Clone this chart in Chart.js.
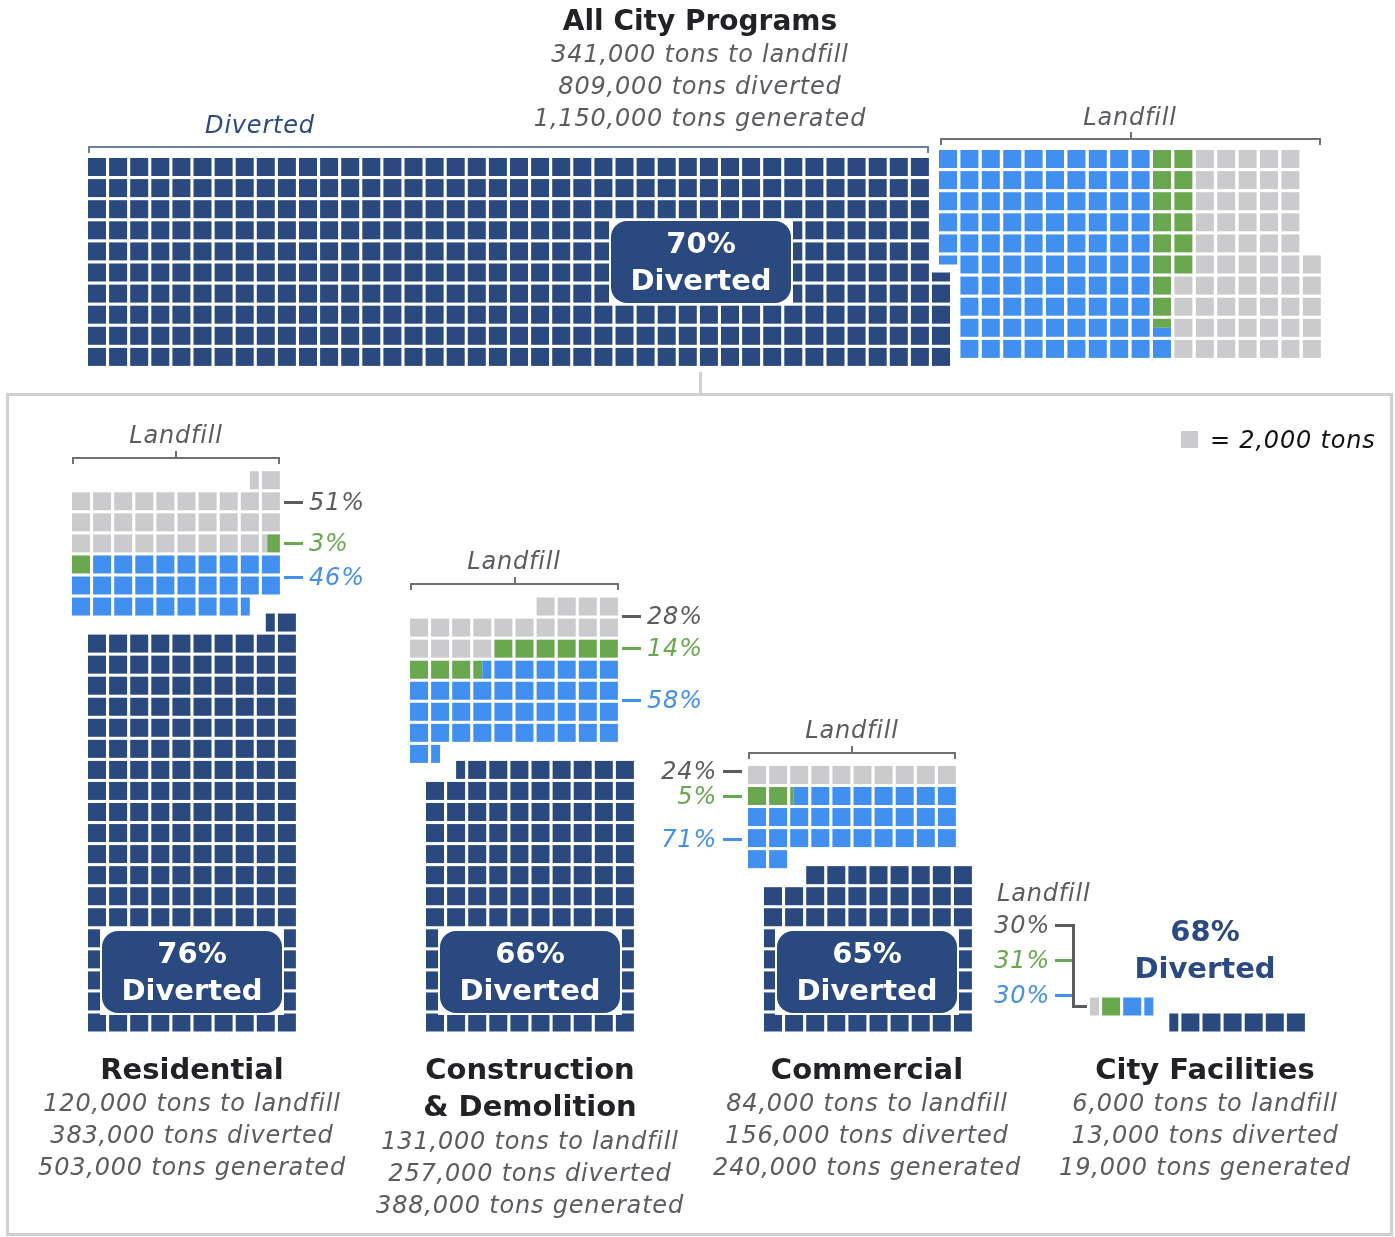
<!DOCTYPE html>
<html lang="en">
<head>
<meta charset="UTF-8">
<title>Landfill and Diversion by Program</title>
<script src="https://cdn.jsdelivr.net/npm/chart.js"></script>
<style>
  body { margin: 0; background: #fff; }
  #page { position: relative; width: 1395px; height: 1237px; overflow: hidden; font-family: "DejaVu Sans", sans-serif; }
  canvas { position: absolute; left: 0; top: 0; }
  .t { position: absolute; white-space: nowrap; transform: translate(-50%, -50%); line-height: 1; z-index: 3; }
  .it { font-style: italic; font-size: 24px; letter-spacing: 0.8px; color: #5b5b60; }
  .name { font-weight: bold; font-size: 29px; color: #222226; }
  .head { font-weight: bold; font-size: 28px; color: #222226; }
  .big { font-weight: bold; font-size: 29px; color: #fff; }
  .navy { color: #2b4a82; }
  .green { color: #6aa84f; }
  .blue { color: #4390ef; }
  .ink { color: #111; }
  .ln { position: absolute; z-index: 2; }
  .badge { position: absolute; background: #fff; padding: 2px; z-index: 2; }
  .badge div { width: 100%; height: 100%; background: #29497f; border-radius: 16px; }
  #panel { position: absolute; left: 6px; top: 393px; width: 1387px; height: 843px; border: 3px solid #d0d0d0; box-sizing: border-box; }
</style>
</head>
<body>
<div id="page">
  <div id="panel"></div>
  <canvas id="topChart" width="1395" height="1237"></canvas>
  <canvas id="lowerChart" width="1395" height="1237"></canvas>
</div>

<script>
  // ---- data (tons) ----
  const SQUARE_TONS = 2000;
  const groups = ['All City Programs', 'Residential', 'Construction & Demolition', 'Commercial', 'City Facilities'];
  const landfillTons = [341000, 120000, 131000, 84000, 6000];
  const divertedTons = [809000, 383000, 257000, 156000, 13000];
  const generatedTons = [1150000, 503000, 388000, 240000, 19000];
  const divertedPct = [70, 76, 66, 65, 68];
  const recyclableTons = [194000, 55000, 76000, 59600, 3000];
  const compostableTons = [29000, 3400, 19000, 4400, 2000];
  const trashTons = [118000, 61600, 36000, 20000, 1000];
  // percent labels printed beside the landfill blocks
  const trashPct = [null, 51, 28, 24, 30];
  const compostPct = [null, 3, 14, 5, 31];
  const recyclePct = [null, 46, 58, 71, 30];

  const W = 1395, H = 1237, CELL = 18;
  const NAVY = '#29497f', BLUE = '#4190f0', GREEN = '#6aa84f', GRAY = '#cbcbcd';
  const sq = v => v / SQUARE_TONS;
  const fmt = v => v.toLocaleString('en-US');

  // split a run [a,b) of squares into per-square pieces
  function pieces(a, b) {
    const out = [];
    for (let q = Math.floor(a + 1e-9); q < b - 1e-6; q++) {
      const s = Math.max(a, q) - q, e = Math.min(b, q + 1) - q;
      if (e - s > 1e-6) out.push({ q, s, e });
    }
    return out;
  }

  // top waffle: columns of 10, filled bottom to top
  function colBar(p, blk) {
    const col = Math.floor(p.q / 10), fromBottom = p.q % 10;
    const bottom = blk.y0 + (9 - fromBottom) * blk.py + CELL;
    return { x: blk.x0 + col * blk.px + CELL / 2, y: [bottom - p.e * CELL, bottom - p.s * CELL] };
  }

  // lower waffles: rows of 10, filled right to left, bottom to top
  function rowBar(p, blk) {
    const row = Math.floor(p.q / 10), fromRight = p.q % 10;
    const right = blk.x0 + (9 - fromRight) * blk.px + CELL;
    return { y: blk.yb - row * blk.py + CELL / 2, x: [right - p.e * CELL, right - p.s * CELL] };
  }

  // landfill colours in the top waffle snake up and down the columns
  function serpentine(start, segs) {
    const total = segs.reduce((s, v) => s + v, 0);
    const bounds = [];
    let acc = 0;
    segs.forEach(v => { bounds.push([acc, acc + v]); acc += v; });
    const out = segs.map(() => []);
    let t = 0, j = 0;
    for (let c = Math.floor(start / 10); t < total - 1e-6; c++, j++) {
      const lo = Math.max(start, c * 10), hi = Math.min(start + total, c * 10 + 10);
      const len = hi - lo;
      bounds.forEach(([bs, be], i) => {
        const s = Math.max(bs, t), e = Math.min(be, t + len);
        if (e - s <= 1e-6) return;
        if (j % 2 === 0) out[i].push([lo + s - t, lo + e - t]);
        else out[i].push([hi - (e - t), hi - (s - t)]);
      });
      t += len;
    }
    return out;
  }

  function waffleChart(id, indexAxis, datasets) {
    new Chart(document.getElementById(id), {
      type: 'bar',
      data: { datasets },
      options: {
        indexAxis,
        responsive: false,
        animation: false,
        devicePixelRatio: 1,
        events: [],
        layout: { padding: 0 },
        plugins: { legend: { display: false }, tooltip: { enabled: false } },
        datasets: { bar: { grouped: false, barThickness: CELL, inflateAmount: 0, borderWidth: 0 } },
        scales: {
          x: { type: 'linear', min: 0, max: W, display: false, offset: false },
          y: { type: 'linear', min: 0, max: H, reverse: true, display: false, offset: false }
        }
      }
    });
  }

  // ---- top waffle ----
  const topDiv = { x0: 88, y0: 158, px: 21.1, py: 21.1 };
  const topLand = { x0: 83, y0: 150, px: 21.4, py: 21.1 };
  const topD = sq(divertedTons[0]);
  const topRuns = serpentine(topD, [sq(recyclableTons[0]), sq(compostableTons[0]), sq(trashTons[0])]);
  const landColors = [BLUE, GREEN, GRAY];
  const topSets = [{ data: pieces(0, topD).map(p => colBar(p, topDiv)), backgroundColor: NAVY }];
  topRuns.forEach((runs, i) => {
    const data = [];
    runs.forEach(([a, b]) => pieces(a, b).forEach(p => data.push(colBar(p, topLand))));
    topSets.push({ data, backgroundColor: landColors[i] });
  });
  waffleChart('topChart', 'x', topSets);

  // ---- lower waffles ----
  const lowerX = [88, 426, 764, 1097];
  const BASE_Y = 1013.5, PX = 21.1, PY = 21.05, SHIFT = 16;
  const lowerSets = [[], [], [], []];
  for (let i = 1; i < groups.length; i++) {
    const div = { x0: lowerX[i - 1], yb: BASE_Y, px: PX, py: PY };
    const land = { x0: lowerX[i - 1] - SHIFT, yb: BASE_Y - SHIFT, px: PX, py: PY };
    const D = sq(divertedTons[i]);
    const B = sq(recyclableTons[i]), G = sq(compostableTons[i]), T = sq(trashTons[i]);
    pieces(0, D).forEach(p => lowerSets[0].push(rowBar(p, div)));
    pieces(D, D + B).forEach(p => lowerSets[1].push(rowBar(p, land)));
    pieces(D + B, D + B + G).forEach(p => lowerSets[2].push(rowBar(p, land)));
    pieces(D + B + G, D + B + G + T).forEach(p => lowerSets[3].push(rowBar(p, land)));
  }
  waffleChart('lowerChart', 'y', lowerSets.map((data, i) => ({ data, backgroundColor: [NAVY, BLUE, GREEN, GRAY][i] })));

  // ---- text and annotation ----
  const page = document.getElementById('page');
  function put(text, x, y, cls, align) {
    const el = document.createElement('div');
    el.className = 't ' + cls;
    el.textContent = text;
    el.style.left = x + 'px';
    el.style.top = y + 'px';
    if (align === 'left') el.style.transform = 'translate(0,-50%)';
    if (align === 'right') el.style.transform = 'translate(-100%,-50%)';
    page.appendChild(el);
  }
  function line(x, y, w, h, color) {
    const el = document.createElement('div');
    el.className = 'ln';
    Object.assign(el.style, { left: x + 'px', top: y + 'px', width: w + 'px', height: h + 'px', background: color });
    page.appendChild(el);
  }
  function bracket(x1, x2, y, color, tick) {
    line(x1, y, x2 - x1, 2, color);
    line(x1, y, 2, 7, color);
    line(x2 - 2, y, 2, 7, color);
    if (tick) line((x1 + x2) / 2 - 1, y - 6, 2, 6, color);
  }
  function badge(cx, cy, pct) {
    const el = document.createElement('div');
    el.className = 'badge';
    Object.assign(el.style, { left: (cx - 92) + 'px', top: (cy - 43) + 'px', width: '180px', height: '82px' });
    el.appendChild(document.createElement('div'));
    page.appendChild(el);
    put(pct + '%', cx, cy - 19, 'big');
    put('Diverted', cx, cy + 18, 'big');
  }

  const SOFT = '#5b5b60';

  // top block
  put(groups[0], 700, 21, 'head');
  put(fmt(landfillTons[0]) + ' tons to landfill', 700, 54, 'it');
  put(fmt(divertedTons[0]) + ' tons diverted', 700, 86, 'it');
  put(fmt(generatedTons[0]) + ' tons generated', 700, 118, 'it');
  put('Diverted', 260, 125, 'it navy');
  bracket(88, 929, 146, '#6b7ea6', false);
  put('Landfill', 1130, 117, 'it');
  bracket(940, 1321, 138, '#707075', true);
  badge(701, 262, divertedPct[0]);
  line(699, 372, 3, 22, '#d0d0d0');

  // legend
  line(1181, 431, 17, 17, GRAY);
  put('= 2,000 tons', 1210, 440, 'it ink', 'left');

  // lower names and totals
  const groupCx = [null, 192, 530, 867, 1205];
  [1, 3, 4].forEach(i => {
    put(groups[i], groupCx[i], 1069, 'name');
  });
  put('Construction', 530, 1069, 'name');
  put('& Demolition', 530, 1106, 'name');
  for (let i = 1; i < groups.length; i++) {
    const y0 = i === 2 ? 1141 : 1103;
    put(fmt(landfillTons[i]) + ' tons to landfill', groupCx[i], y0, 'it');
    put(fmt(divertedTons[i]) + ' tons diverted', groupCx[i], y0 + 32, 'it');
    put(fmt(generatedTons[i]) + ' tons generated', groupCx[i], y0 + 64, 'it');
  }
  badge(192, 972, divertedPct[1]);
  badge(530, 972, divertedPct[2]);
  badge(867, 972, divertedPct[3]);
  put(divertedPct[4] + '%', 1205, 931, 'big navy');
  put('Diverted', 1205, 968, 'big navy');

  // landfill brackets
  put('Landfill', 176, 435, 'it');
  bracket(72, 280, 457, '#707075', true);
  put('Landfill', 514, 561, 'it');
  bracket(410, 619, 583, '#707075', true);
  put('Landfill', 852, 730, 'it');
  bracket(748, 956, 752, '#707075', true);
  put('Landfill', 997, 893, 'it', 'left');

  // percent call-outs
  function callRight(x, ys, i) {
    const vals = [trashPct[i], compostPct[i], recyclePct[i]];
    const cls = ['', 'green', 'blue'];
    const col = [SOFT, GREEN, '#4390ef'];
    vals.forEach((v, k) => {
      line(x, ys[k] - 1, 19, 3, col[k]);
      put(v + '%', x + 25, ys[k], 'it ' + cls[k], 'left');
    });
  }
  callRight(284, [502, 543, 577], 1);
  callRight(622, [616, 648, 700], 2);
  [[771, 0], [796, 1], [839, 2]].forEach(([y, k]) => {
    const v = [trashPct[3], compostPct[3], recyclePct[3]][k];
    line(723, y - 1, 19, 3, [SOFT, GREEN, '#4390ef'][k]);
    put(v + '%', 717, y, 'it ' + ['', 'green', 'blue'][k], 'right');
  });
  // city facilities connector
  [[925, 0], [960, 1], [995, 2]].forEach(([y, k]) => {
    const v = [trashPct[4], compostPct[4], recyclePct[4]][k];
    put(v + '%', 1050, y, 'it ' + ['', 'green', 'blue'][k], 'right');
    line(1055, y - 1, 19, 3, [SOFT, GREEN, '#4390ef'][k]);
  });
  line(1072, 924, 3, 84, SOFT);
  line(1072, 1005, 15, 3, SOFT);
</script>
</body>
</html>
